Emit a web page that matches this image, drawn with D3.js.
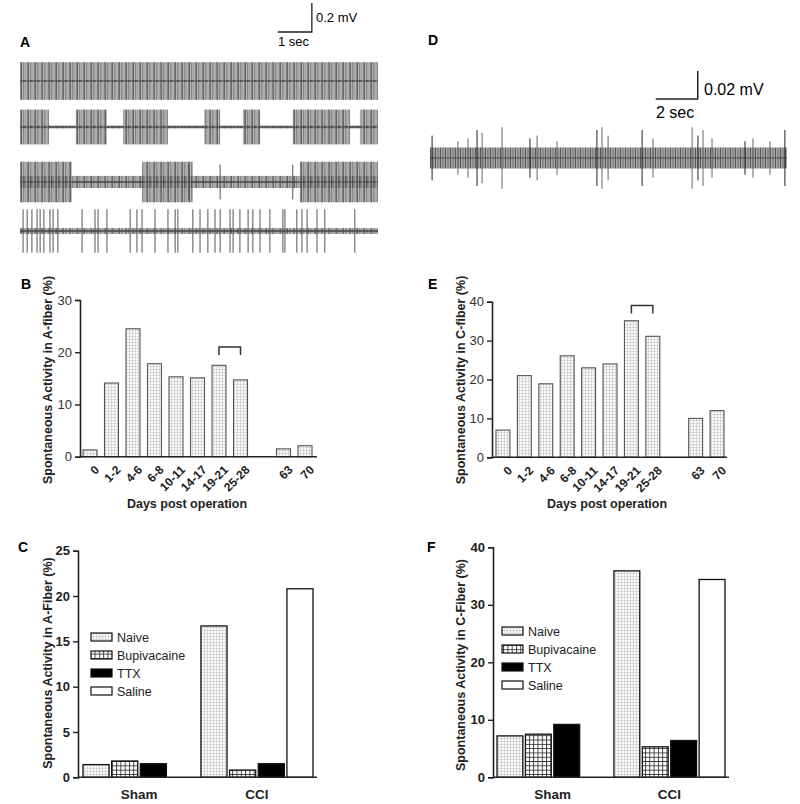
<!DOCTYPE html>
<html><head><meta charset="utf-8">
<script src="https://cdn.jsdelivr.net/npm/d3@7"></script>
<style>
body{margin:0;background:#fff}
svg{display:block;font-family:Arial,"Liberation Sans",sans-serif}
</style></head>
<body><svg id="c" width="800" height="804"></svg>
<script>
// ---------- DATA ----------
const dayCats = ["0","1-2","4-6","6-8","10-11","14-17","19-21","25-28","","63","70"];
const aFiberDays = [1.3,14.1,24.5,17.8,15.3,15.1,17.5,14.7,null,1.5,2.1];
const cFiberDays = [7,21,18.9,26.1,23,24,35.1,31.1,null,10,12];
const bTicks = [0,10,20,30];
const eTicks = [0,10,20,30,40];
const bracketB = ["19-21","25-28"];
const groups = ["Sham","CCI"];
const treatments = ["Naive","Bupivacaine","TTX","Saline"];
const aFiberSham = [1.4,1.8,1.5,null];
const aFiberCCI  = [16.7,0.8,1.5,20.8];
const cFiberSham = [7.2,7.5,9.2,null];
const cFiberCCI  = [35.9,5.3,6.4,34.4];
const cTicks = [0,5,10,15,20,25];
const fTicks = [0,10,20,30,40];
// traces (time in sec, amplitude in mV)
const a1Bursts = [[0,10.5]];
const a2Bursts = [[0,0.85],[1.64,2.55],[3.02,4.34],[5.4,5.87],[6.54,7.04],[8.0,9.68],[9.97,10.5]];
const a3Bursts = [[0,1.52],[3.58,5.07],[8.21,10.5]];
const a3Spikes = [5.87,4.95,8.0];
const a4Spikes = [0.09,0.21,0.35,0.5,0.59,0.7,0.88,0.97,1.11,1.82,2.2,2.29,2.55,3.23,3.43,3.58,3.96,4.34,4.55,4.63,5.07,5.28,5.51,5.72,5.87,6.16,6.25,6.45,6.69,6.83,7.04,7.33,7.71,7.77,8.12,8.27,8.42,8.71,8.94,9.82];
const dSpikes = [0.1,1.33,1.81,2.24,2.48,3.43,4.76,5.1,6.05,7.95,8.19,8.48,10.1,10.62,12.48,12.76,13.0,13.43,15.0,15.38,16.19,16.9];
const dSpikeAmp = [0.016,0.012,0.014,0.02,0.018,0.022,0.014,0.016,0.012,0.02,0.022,0.016,0.02,0.014,0.022,0.016,0.02,0.014,0.012,0.014,0.012,0.02];

const svg = d3.select("#c");
const defs = svg.append("defs");
// patterns
const pFine = defs.append("pattern").attr("id","fine").attr("patternUnits","userSpaceOnUse").attr("width",3).attr("height",3);
pFine.append("rect").attr("width",3).attr("height",3).attr("fill","#fafafa");
pFine.append("path").attr("d","M0,0.5H3M0.5,0V3").attr("stroke","#cfcfcf").attr("stroke-width",0.8);
const pGrid = defs.append("pattern").attr("id","grid").attr("patternUnits","userSpaceOnUse").attr("width",4.3).attr("height",4.3);
pGrid.append("rect").attr("width",4.3).attr("height",4.3).attr("fill","#fff");
pGrid.append("path").attr("d","M0,0.5H4.3M0.5,0V4.3").attr("stroke","#333").attr("stroke-width",0.9);
const pStr = defs.append("pattern").attr("id","stripes").attr("patternUnits","userSpaceOnUse").attr("width",7).attr("height",10);
[[0.5,"#555"],[1.7,"#999"],[2.9,"#333"],[4.2,"#777"],[5.5,"#aaa"],[6.4,"#666"]].forEach(([x,c])=>pStr.append("line").attr("x1",x).attr("x2",x).attr("y1",0).attr("y2",10).attr("stroke",c).attr("stroke-width",0.9));
const pStrD = defs.append("pattern").attr("id","stripesD").attr("patternUnits","userSpaceOnUse").attr("width",5).attr("height",10);
[[0.5,"#444"],[1.8,"#777"],[3,"#222"],[4.2,"#666"]].forEach(([x,c])=>pStrD.append("line").attr("x1",x).attr("x2",x).attr("y1",0).attr("y2",10).attr("stroke",c).attr("stroke-width",0.9));

const fillFor = {Naive:"url(#fine)",Bupivacaine:"url(#grid)",TTX:"#000",Saline:"#fff"};

function label(x,y,t,size){svg.append("text").attr("x",x).attr("y",y).attr("font-size",size||14).attr("font-weight","bold").text(t);}

// ---------- PANEL A ----------
label(20,47,"A");
const tA = d3.scaleLinear().domain([0,10.5]).range([20,378]);
const mvA = 145; // px per mV
function row(cy, bursts, amp, baseAmp, spikes, spikeAmp){
  const g = svg.append("g");
  if(baseAmp>0){
    g.append("rect").attr("x",tA(0)).attr("width",tA(10.5)-tA(0)).attr("y",cy-baseAmp*mvA).attr("height",2*baseAmp*mvA).attr("fill","url(#stripes)");
  }
  g.append("line").attr("x1",tA(0)).attr("x2",tA(10.5)).attr("y1",cy).attr("y2",cy).attr("stroke","#555").attr("stroke-width",1.6);
  bursts.forEach(([s,e])=>{
    g.append("rect").attr("x",tA(s)).attr("width",tA(e)-tA(s)).attr("y",cy-amp*mvA).attr("height",2*amp*mvA).attr("fill","url(#stripes)");
  });
  (spikes||[]).forEach(t=>{
    g.append("line").attr("x1",tA(t)).attr("x2",tA(t)).attr("y1",cy-spikeAmp*mvA).attr("y2",cy+spikeAmp*mvA).attr("stroke","#555").attr("stroke-width",1);
  });
  g.append("line").attr("x1",tA(0)).attr("x2",tA(10.5)).attr("y1",cy).attr("y2",cy).attr("stroke","#444").attr("stroke-width",1).attr("opacity",0.6);
}
row(81,a1Bursts,0.13,0,null,0);
row(127,a2Bursts,0.12,0.01,null,0);
row(182,a3Bursts,0.14,0.042,a3Spikes,0.12);
row(231,[],0,0.02,a4Spikes,0.15);
// scale bar A
svg.append("path").attr("d",`M${tA(7.56)},32H${tA(8.56)}V${32-0.2*mvA}`).attr("fill","none").attr("stroke","#222").attr("stroke-width",1.3);
svg.append("text").attr("x",316).attr("y",22).attr("font-size",13).text("0.2 mV");
svg.append("text").attr("x",278).attr("y",46).attr("font-size",13).text("1 sec");

// ---------- PANEL D ----------
label(428,45,"D");
const tD = d3.scaleLinear().domain([0,17]).range([430,787]);
const mvD = 1400;
const cyD = 158;
svg.append("rect").attr("x",tD(0)).attr("width",tD(17)-tD(0)).attr("y",cyD-0.0075*mvD).attr("height",0.015*mvD).attr("fill","url(#stripesD)");
svg.append("line").attr("x1",tD(0)).attr("x2",tD(17)).attr("y1",cyD).attr("y2",cyD).attr("stroke","#444").attr("stroke-width",1);
dSpikes.forEach((t,i)=>{
  const a = dSpikeAmp[i];
  svg.append("line").attr("x1",tD(t)).attr("x2",tD(t)).attr("y1",cyD-a*mvD).attr("y2",cyD+a*mvD).attr("stroke",i%3==0?"#222":"#666").attr("stroke-width",1);
});
svg.append("path").attr("d",`M${tD(10.75)},99H${tD(12.75)}V${99-0.02*mvD}`).attr("fill","none").attr("stroke","#222").attr("stroke-width",1.5);
svg.append("text").attr("x",704).attr("y",95).attr("font-size",16).text("0.02 mV");
svg.append("text").attr("x",656).attr("y",118).attr("font-size",16).text("2 sec");

// ---------- PANELS B & E ----------
function daysPanel(opt){
  const x = d3.scaleBand().domain(dayCats).range([opt.x0,opt.x1]).paddingInner(0.35).paddingOuter(0);
  const y = d3.scaleLinear().domain([0,opt.ymax]).range([opt.y0,opt.yTop]);
  const g = svg.append("g");
  g.selectAll("rect.bar").data(dayCats.map((c,i)=>({c,v:opt.vals[i]})).filter(d=>d.v!=null)).join("rect")
    .attr("x",d=>x(d.c)).attr("width",x.bandwidth()).attr("y",d=>y(d.v)).attr("height",d=>y(0)-y(d.v))
    .attr("fill","url(#fine)").attr("stroke","#555").attr("stroke-width",1.1);
  const ax = g.append("g").attr("transform",`translate(${opt.ax},0)`).call(d3.axisLeft(y).tickValues(opt.ticks).tickSize(5).tickPadding(3));
  ax.select(".domain").attr("stroke","#222").attr("stroke-width",1.6);
  ax.selectAll(".tick line").attr("stroke","#222").attr("stroke-width",1.4);
  ax.selectAll("text").attr("font-size",13).attr("fill","#333").attr("font-family","Arial,'Liberation Sans',sans-serif");
  g.append("line").attr("x1",opt.ax).attr("x2",opt.axEnd).attr("y1",y(0)).attr("y2",y(0)).attr("stroke","#222").attr("stroke-width",1.6);
  dayCats.forEach(c=>{ if(!c) return;
    const cx = x(c)+x.bandwidth()/2+4;
    g.append("text").attr("transform",`translate(${cx},${y(0)+8}) rotate(-45)`).attr("text-anchor","end").attr("dy","0.7em")
     .attr("font-size",12).attr("font-weight","bold").attr("fill","#222").text(c);
  });
  // bracket
  const bx0 = x(bracketB[0])+x.bandwidth()/2, bx1 = x(bracketB[1])+x.bandwidth()/2, by = y(opt.bracketY);
  g.append("path").attr("d",`M${bx0},${by+8}V${by}H${bx1}V${by+8}`).attr("fill","none").attr("stroke","#333").attr("stroke-width",1.5);
  g.append("text").attr("x",opt.xTitle).attr("y",508).attr("text-anchor","middle").attr("font-size",12.5).attr("font-weight","bold").attr("fill","#222").text("Days post operation");
  g.append("text").attr("transform",`translate(${opt.yTitleX},${opt.yTitleY}) rotate(-90)`).attr("text-anchor","middle").attr("font-size",12.5).attr("font-weight","bold").attr("fill","#222").text(opt.title);
}
label(21,289,"B");
daysPanel({x0:83,x1:312,y0:456.7,yTop:300,ymax:30,vals:aFiberDays,ticks:bTicks,ax:80,axEnd:317,bracketY:21.0,xTitle:187,yTitleX:52,yTitleY:380,title:"Spontaneous Activity in A-fiber (%)"});
label(428,289,"E");
daysPanel({x0:496,x1:724,y0:457.3,yTop:301.7,ymax:40,vals:cFiberDays,ticks:eTicks,ax:492,axEnd:727,bracketY:39.0,xTitle:607,yTitleX:465,yTitleY:380,title:"Spontaneous Activity in C-fiber (%)"});

// ---------- PANELS C & F ----------
function groupPanel(opt){
  const x0 = d3.scaleBand().domain(groups).range([opt.x0,opt.x1]).paddingInner(0.05).paddingOuter(0);
  const x1 = d3.scaleBand().domain(treatments).range([0,x0.bandwidth()]).paddingInner(0.09).paddingOuter(0);
  const y = d3.scaleLinear().domain([0,opt.ymax]).range([opt.y0,opt.yTop]);
  const g = svg.append("g");
  const data = [];
  groups.forEach((gr,gi)=>treatments.forEach((t,ti)=>{const v=(gi==0?opt.sham:opt.cci)[ti]; if(v!=null) data.push({gr,t,v});}));
  g.selectAll("rect.bar").data(data).join("rect")
    .attr("x",d=>x0(d.gr)+x1(d.t)).attr("width",x1.bandwidth()).attr("y",d=>y(d.v)).attr("height",d=>y(0)-y(d.v))
    .attr("fill",d=>fillFor[d.t]).attr("stroke","#111").attr("stroke-width",1.3);
  const ax = g.append("g").attr("transform",`translate(${opt.ax},0)`).call(d3.axisLeft(y).tickValues(opt.ticks).tickSize(5).tickPadding(3));
  ax.select(".domain").attr("stroke","#222").attr("stroke-width",1.6);
  ax.selectAll(".tick line").attr("stroke","#222").attr("stroke-width",1.4);
  ax.selectAll("text").attr("font-size",13).attr("font-weight","bold").attr("fill","#222").attr("font-family","Arial,'Liberation Sans',sans-serif");
  g.append("line").attr("x1",opt.ax).attr("x2",opt.axEnd).attr("y1",y(0)).attr("y2",y(0)).attr("stroke","#222").attr("stroke-width",1.6);
  groups.forEach(gr=>g.append("text").attr("x",x0(gr)+x0.bandwidth()/2).attr("y",799).attr("text-anchor","middle").attr("font-size",13.5).attr("font-weight","bold").attr("fill","#222").text(gr));
  g.append("text").attr("transform",`translate(${opt.yTitleX},${opt.yTitleY}) rotate(-90)`).attr("text-anchor","middle").attr("font-size",12.5).attr("font-weight","bold").attr("fill","#222").text(opt.title);
  treatments.forEach((t,i)=>{
    const cy = opt.legY + i*18;
    g.append("rect").attr("x",opt.legX).attr("y",cy-4).attr("width",21).attr("height",8).attr("fill",fillFor[t]).attr("stroke","#111").attr("stroke-width",1.2);
    g.append("text").attr("x",opt.legX+26).attr("y",cy+5).attr("font-size",12.5).attr("fill","#222").text(t);
  });
}
label(18,552,"C");
groupPanel({x0:83,x1:313,y0:777.3,yTop:550.7,ymax:25,sham:aFiberSham,cci:aFiberCCI,ticks:cTicks,ax:78,axEnd:317,yTitleX:52,yTitleY:663,title:"Spontaneous Activity in A-Fiber (%)",legX:91,legY:637});
label(427,552,"F");
groupPanel({x0:497,x1:725,y0:777.3,yTop:547.3,ymax:40,sham:cFiberSham,cci:cFiberCCI,ticks:fTicks,ax:493,axEnd:729,yTitleX:465,yTitleY:665,title:"Spontaneous Activity in C-Fiber (%)",legX:502,legY:631});
</script></body></html>
